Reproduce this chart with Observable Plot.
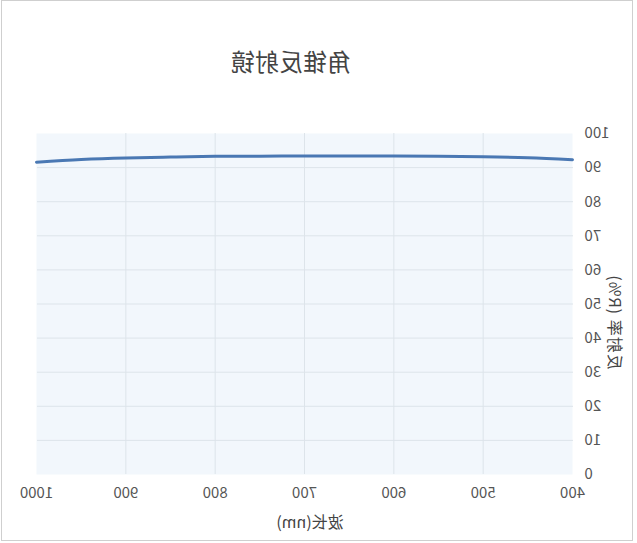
<!DOCTYPE html>
<html>
<head>
<meta charset="utf-8">
<script src="https://cdn.jsdelivr.net/npm/d3@7"></script>
<script src="https://cdn.jsdelivr.net/npm/@observablehq/plot@0.6"></script>
<style>
  html, body { margin: 0; padding: 0; background: #fff; }
  #root { position: relative; width: 637px; height: 543px; transform: scaleX(-1); transform-origin: 318.5px 0; overflow: hidden; font-family: "Noto Sans CJK SC", "Noto Sans", sans-serif; }
  #frame { position: absolute; left: 4px; top: 0; width: 632px; height: 541px; box-sizing: border-box; border: 1px solid #cfcfcf; }
  #title { position: absolute; left: 0; width: 692px; top: 44px; text-align: center; font-size: 24px; line-height: 34px; color: #444; }
  #chart { position: absolute; left: 0; top: 100px; }
  #xlabel { position: absolute; left: 0; width: 654px; top: 510px; text-align: center; font-size: 16px; line-height: 22px; color: #444; }
  #ylabel { position: absolute; left: 21px; top: 322px; transform: translate(-50%, -50%) rotate(-90deg); white-space: nowrap; font-size: 16px; line-height: 22px; color: #444; letter-spacing: 1px; }
</style>
</head>
<body>
<div id="root">
  <div id="frame"></div>
  <div id="title"></div>
  <div id="chart"></div>
  <div id="xlabel"></div>
  <div id="ylabel"></div>
</div>
<script>
const titleText = "角锥反射镜";
const xLabel = "波长(nm)";
const yLabel = "反射率 (R%)";
const wavelengths = [400, 450, 500, 550, 600, 650, 700, 750, 800, 850, 900, 950, 1000];
const reflectance = [92.3, 92.9, 93.2, 93.35, 93.4, 93.4, 93.4, 93.35, 93.3, 93.1, 92.85, 92.4, 91.6];
const xTicks = [400, 500, 600, 700, 800, 900, 1000];
const yTicks = [0, 10, 20, 30, 40, 50, 60, 70, 80, 90, 100];

const data = wavelengths.map((w, i) => ({ w, r: reflectance[i] }));

document.getElementById("title").textContent = titleText;
document.getElementById("xlabel").textContent = xLabel;
document.getElementById("ylabel").textContent = yLabel;

const chart = Plot.plot({
  width: 637,
  height: 443,
  marginLeft: 64,
  marginRight: 37,
  marginTop: 33,
  marginBottom: 69,
  style: { fontSize: "15px", fontFamily: "'Noto Sans CJK SC', 'Noto Sans', sans-serif", background: "transparent", overflow: "visible" },
  x: { domain: [400, 1000], label: null },
  y: { domain: [0, 100], label: null },
  marks: [
    Plot.frame({ fill: "#f2f7fc", stroke: null }),
    Plot.gridX(xTicks.slice(1, -1), { stroke: "#dde4ea", strokeOpacity: 1, strokeWidth: 1 }),
    Plot.gridY(yTicks.slice(1, -1), { stroke: "#dde4ea", strokeOpacity: 1, strokeWidth: 1 }),
    Plot.axisX(xTicks, { tickSize: 0, tickPadding: 13, fill: "#555", fontSize: 15, tickFormat: d => String(d), label: null }),
    Plot.axisY(yTicks, { tickSize: 0, tickPadding: 12, fill: "#555", fontSize: 15, tickFormat: d => String(d), label: null }),
    Plot.line(data, { x: "w", y: "r", curve: "natural", stroke: "#4a78b3", strokeWidth: 3 })
  ]
});
document.getElementById("chart").appendChild(chart);
</script>
</body>
</html>
